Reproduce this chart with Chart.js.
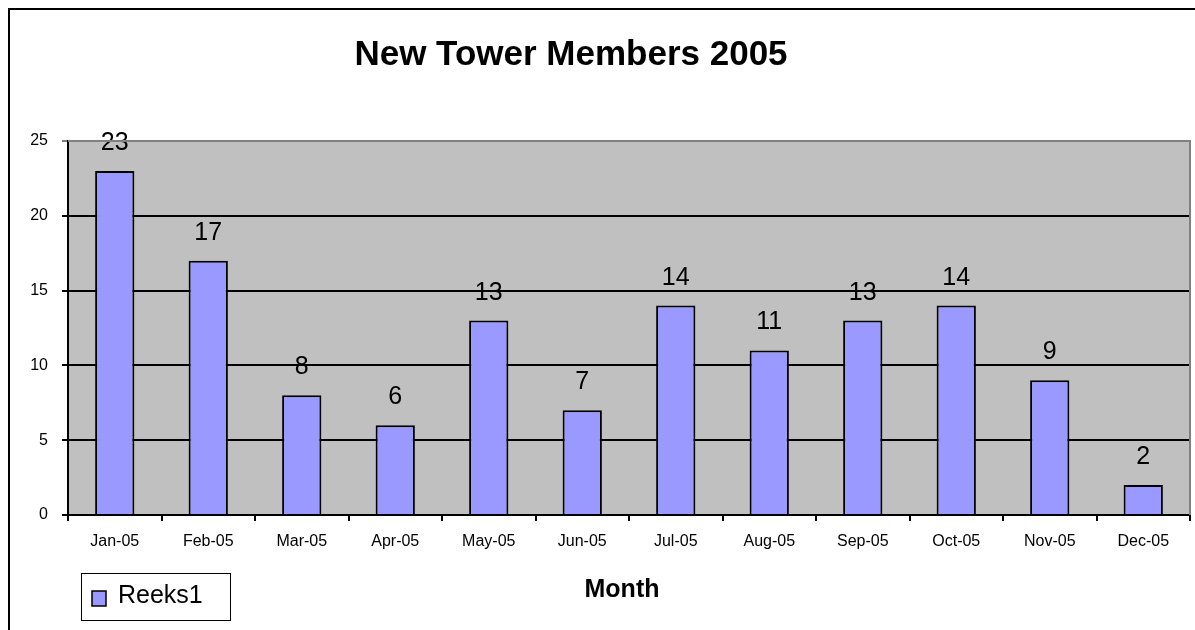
<!DOCTYPE html>
<html><head><meta charset="utf-8">
<script src="https://cdn.jsdelivr.net/npm/chart.js@4/dist/chart.umd.min.js"></script>
<style>html,body{margin:0;padding:0;background:#fff}#wrap{width:1195px;height:630px;position:relative}</style>
</head><body><div id="wrap"><canvas id="c" width="1195" height="630"></canvas></div>
<script>
const categories = ["Jan-05","Feb-05","Mar-05","Apr-05","May-05","Jun-05","Jul-05","Aug-05","Sep-05","Oct-05","Nov-05","Dec-05"];
const seriesName = "Reeks1";
const values = [23,17,8,6,13,7,14,11,13,14,9,2];
const yTicks = [0,5,10,15,20,25];
const titleText = "New Tower Members 2005";
const xTitle = "Month";
const FONT = "'Liberation Sans', Arial, sans-serif";

const decor = {
  id: 'decor',
  beforeDraw(chart) {
    const {ctx, chartArea: a} = chart;
    ctx.save();
    ctx.fillStyle = '#fff';
    ctx.fillRect(0,0,chart.width,chart.height);
    ctx.fillStyle = '#C0C0C0';
    ctx.fillRect(a.left, a.top, a.right - a.left, a.bottom - a.top);
    ctx.restore();
  },
  afterDraw(chart) {
    const {ctx, chartArea: a} = chart;
    ctx.save();
    ctx.strokeStyle = '#808080'; ctx.lineWidth = 2;
    ctx.beginPath(); ctx.moveTo(a.left, a.top); ctx.lineTo(a.right, a.top); ctx.lineTo(a.right, a.bottom); ctx.stroke();
    ctx.strokeStyle = '#000'; ctx.lineWidth = 2;
    ctx.beginPath(); ctx.moveTo(9, chart.height); ctx.lineTo(9, 9); ctx.lineTo(chart.width, 9); ctx.stroke();
    ctx.fillStyle = '#000';
    ctx.font = "bold 35px " + FONT;
    ctx.textAlign = 'center'; ctx.textBaseline = 'alphabetic';
    ctx.fillText(titleText, 571, 65);
    ctx.lineWidth = 1; ctx.strokeStyle = '#000';
    ctx.fillStyle = '#fff';
    ctx.fillRect(81.5, 573.5, 149, 47);
    ctx.strokeRect(81.5, 573.5, 149, 47);
    ctx.fillStyle = '#9999FF';
    ctx.fillRect(92, 591, 14, 15);
    ctx.lineWidth = 1.5;
    ctx.strokeRect(92, 591, 14, 15);
    ctx.fillStyle = '#000';
    ctx.font = "25px " + FONT;
    ctx.textAlign = 'left'; ctx.textBaseline = 'alphabetic';
    ctx.fillText(seriesName, 118, 603);
    ctx.font = "bold 25px " + FONT;
    ctx.textAlign = 'center';
    ctx.fillText(xTitle, 622, 597);
    ctx.restore();
  },
  afterDatasetsDraw(chart) {
    const {ctx} = chart;
    const meta = chart.getDatasetMeta(0);
    ctx.save();
    ctx.fillStyle = '#000';
    ctx.font = "25px " + FONT;
    ctx.textAlign = 'center'; ctx.textBaseline = 'alphabetic';
    meta.data.forEach((bar, i) => {
      ctx.fillText(String(values[i]), bar.x, bar.y - 21);
    });
    ctx.restore();
  }
};

new Chart(document.getElementById('c'), {
  type: 'bar',
  data: {
    labels: categories,
    datasets: [{
      label: seriesName,
      data: values,
      backgroundColor: '#9999FF',
      borderColor: '#000',
      borderWidth: 2,
      categoryPercentage: 1,
      barPercentage: 0.42
    }]
  },
  options: {
    responsive: false,
    animation: false,
    devicePixelRatio: 1,
    layout: { padding: { top: 141, left: 0, right: 5, bottom: 0 } },
    plugins: { legend: { display: false }, title: { display: false }, tooltip: { enabled: false } },
    scales: {
      x: {
        offset: true,
        grid: { display: true, offset: true, drawOnChartArea: false, drawTicks: true, tickLength: 6, color: '#000', lineWidth: 2 },
        border: { color: '#000', width: 2 },
        ticks: { color: '#000', font: { family: FONT, size: 16 }, padding: 11, maxRotation: 0, autoSkip: false },
        title: { display: false },
        afterFit(s) { s.height = 115; }
      },
      y: {
        min: 0, max: 25,
        afterBuildTicks(s) { s.ticks = yTicks.map(v => ({ value: v })); },
        grid: {
          color: ctx => (ctx.tick && ctx.tick.value === 25) ? '#808080' : '#000',
          lineWidth: 2, tickLength: 6, drawTicks: true
        },
        border: { color: '#000', width: 2 },
        ticks: { color: '#000', font: { family: FONT, size: 16 }, padding: 14 },
        afterFit(s) { s.width = 68; }
      }
    }
  },
  plugins: [decor]
});
</script></body></html>
